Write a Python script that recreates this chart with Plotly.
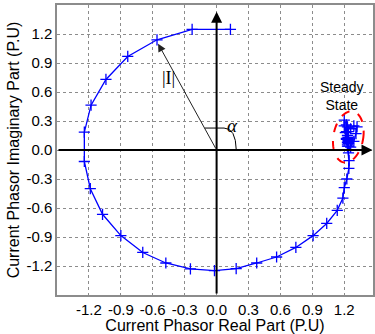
import numpy as np
import plotly.graph_objects as go

# current phasor trajectory (P.U)
real_part = [0.13, -0.23, -0.56, -0.835, -1.04, -1.18, -1.243, -1.243, -1.187, -1.072,
             -0.90, -0.694, -0.477, -0.246, -0.02, 0.184, 0.377, 0.564, 0.745, 0.907,
             1.035, 1.134, 1.187, 1.20, 1.224, 1.243, 1.245,
             # steady state cluster
             1.24, 1.23, 1.22, 1.21, 1.20, 1.20, 1.22, 1.26, 1.29, 1.32, 1.31, 1.29,
             1.26, 1.24, 1.23, 1.22, 1.22, 1.23, 1.24, 1.235, 1.23, 1.235, 1.24, 1.235,
             1.23, 1.235, 1.238, 1.236]
imag_part = [1.247, 1.247, 1.14, 0.968, 0.73, 0.464, 0.184, -0.119, -0.40, -0.665,
             -0.885, -1.06, -1.169, -1.23, -1.247, -1.227, -1.169, -1.107, -1.008, -0.886,
             -0.76, -0.624, -0.497, -0.39, -0.30, -0.19, -0.11,
             -0.03, 0.04, 0.11, 0.18, 0.25, 0.31, 0.26, 0.22, 0.25, 0.24, 0.17, 0.09,
             0.03, 0.00, 0.06, 0.12, 0.19, 0.24, 0.19, 0.13, 0.08, 0.04, 0.07, 0.11,
             0.15, 0.12, 0.09, 0.10]

tick_vals = [-1.2, -0.9, -0.6, -0.3, 0.0, 0.3, 0.6, 0.9, 1.2]
tick_text = ["-1.2", "-0.9", "-0.6", "-0.3", "0.0", "0.3", "0.6", "0.9", "1.2"]

# pixel scale of the axes, used for the tilted ellipse outline
px_x = 107.0
px_y = 97.0

fig = go.Figure()

fig.add_trace(go.Scatter(x=real_part, y=imag_part, mode="lines+markers",
                         line=dict(color="#0000FF", width=1.3),
                         marker=dict(symbol="cross-thin", size=8,
                                     line=dict(color="#0000FF", width=1.3)),
                         showlegend=False, hoverinfo="skip"))

# black axes with arrow heads
fig.add_annotation(x=1.465, y=0, ax=-1.5, ay=0, axref="x", ayref="y", xref="x", yref="y",
                   text="", showarrow=True, arrowhead=2, arrowwidth=2, arrowsize=1.1,
                   arrowcolor="black", standoff=0)
fig.add_annotation(x=0, y=1.43, ax=0, ay=-1.5, axref="x", ayref="y", xref="x", yref="y",
                   text="", showarrow=True, arrowhead=2, arrowwidth=2, arrowsize=1.1,
                   arrowcolor="black", standoff=0)

# |I| vector
fig.add_annotation(x=-0.55, y=1.10, ax=0, ay=0, axref="x", ayref="y", xref="x", yref="y",
                   text="", showarrow=True, arrowhead=2, arrowwidth=1, arrowsize=1.6,
                   arrowcolor="#222222", standoff=0)
fig.add_annotation(x=-0.455, y=0.74, text="|I|", showarrow=False,
                   font=dict(family="Liberation Serif", size=18, color="black"))

# angle alpha
fig.add_shape(type="path", xref="x", yref="y",
              path="M -0.112,0.227 L 0.07,0.227 Q 0.18,0.227 0.185,0",
              line=dict(color="black", width=1))
fig.add_annotation(x=0.15, y=0.255, text="<i>α</i>", showarrow=False,
                   font=dict(family="Liberation Serif", size=19, color="black"))

# steady state marker
fig.add_annotation(x=1.18, y=0.555, text="Steady<br>State", showarrow=False,
                   font=dict(family="Arial", size=14, color="black"))
t = np.linspace(0, 2 * np.pi, 60)
a, b, th = 15.0, 26.0, np.deg2rad(10)
ex = (a * np.cos(t) * np.cos(th) + b * np.sin(t) * np.sin(th)) / px_x + 1.238
ey = (-a * np.cos(t) * np.sin(th) + b * np.sin(t) * np.cos(th)) / px_y + 0.135
ell = "M " + " L ".join(f"{x:.4f},{y:.4f}" for x, y in zip(ex, ey)) + " Z"
fig.add_shape(type="path", xref="x", yref="y", path=ell,
              line=dict(color="#FF0000", width=2, dash="dash"))

axis_common = dict(tickvals=tick_vals, ticktext=tick_text, showgrid=True,
                   gridcolor="#8c8c8c", griddash="dot", gridwidth=1,
                   zeroline=False, showline=True, mirror=True, linecolor="#8c8c8c",
                   linewidth=1.5, ticks="", tickfont=dict(family="Arial", size=15, color="black"),
                   title_font=dict(family="Arial", size=16, color="black"))

fig.update_xaxes(range=[-1.5, 1.47], title_text="Current Phasor Real Part (P.U)",
                 title_standoff=0, **axis_common)
fig.update_yaxes(range=[-1.5, 1.5], title_text="Current Phasor Imaginary Part (P.U)",
                 title_standoff=3, **axis_common)

fig.update_layout(width=375, height=334, margin=dict(l=57, r=0, t=5, b=39),
                  paper_bgcolor="white", plot_bgcolor="white")

# drop the default page margin so the figure sits at the top-left corner
fig.write_html("out.html", config={"displayModeBar": False},
               post_script="document.body.style.margin='0';")
